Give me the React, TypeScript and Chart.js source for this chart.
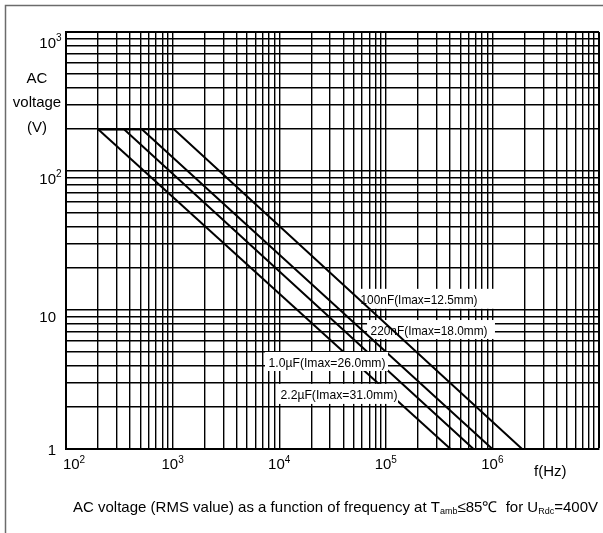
import { useEffect, useRef } from "react";
import { Chart, registerables } from "chart.js";

Chart.register(...registerables);

// ---- data ----
const FREQ_2U2 = [200, 405000];
const VOLT_2U2 = [200, 1];
const FREQ_1U0 = [200, 350, 665000];
const VOLT_1U0 = [200, 200, 1];
const FREQ_220N = [200, 515, 1000000];
const VOLT_220N = [200, 200, 1];
const FREQ_100N = [200, 1030, 1900000];
const VOLT_100N = [200, 200, 1];

const SERIES_NAMES = [
  "2.2µF(Imax=31.0mm)",
  "1.0µF(Imax=26.0mm)",
  "220nF(Imax=18.0mm)",
  "100nF(Imax=12.5mm)",
];

// tick labels
const X_TICK_EXPONENTS = ["2", "3", "4", "5", "6"];
const Y_TICK_VALUES = [1, 10, 100, 1000];
const Y_TICK_BASES = ["1", "10", "10", "10"];
const Y_TICK_EXPONENTS = ["", "", "2", "3"];

const X_MIN = 100;
const X_MAX = 1e7;
const Y_MIN = 1;
const Y_MAX = 1000;

// label boxes anchored in data space: [f left, f right, V top, V bottom]
const LABEL_BOXES = [
  { name: 3, f0: 53700, f1: 1700000, v0: 14.2, v1: 10.2, above: false },
  { name: 2, f0: 66700, f1: 1057000, v0: 8.47, v1: 6.19, above: false },
  { name: 1, f0: 7360, f1: 104900, v0: 4.99, v1: 3.64, above: true },
  { name: 0, f0: 9530, f1: 130100, v0: 2.94, v1: 2.11, above: true },
];

const FONT = "'Liberation Sans', Arial, Helvetica, sans-serif";

function decadeGrid(minExp: number, maxExp: number): number[] {
  const out: number[] = [];
  for (let e = minExp; e < maxExp; e++) {
    for (let m = 1; m <= 9; m++) out.push(m * Math.pow(10, e));
  }
  out.push(Math.pow(10, maxExp));
  return out;
}

function pts(f: number[], v: number[]) {
  return f.map((x, i) => ({ x, y: v[i] }));
}

const decor = {
  id: "decor",
  beforeDraw(chart: any) {
    const ctx = chart.ctx;
    ctx.save();
    ctx.fillStyle = "#fff";
    ctx.fillRect(0, 0, chart.width, chart.height);
    ctx.strokeStyle = "#6b6b6b";
    ctx.lineWidth = 1.5;
    ctx.beginPath();
    ctx.moveTo(5.5, chart.height);
    ctx.lineTo(5.5, 5.5);
    ctx.lineTo(chart.width, 5.5);
    ctx.stroke();
    ctx.restore();
  },
  drawBoxes(chart: any, above: boolean) {
    const ctx = chart.ctx;
    const xs = chart.scales.x;
    const ys = chart.scales.y;
    ctx.save();
    for (const b of LABEL_BOXES) {
      if (b.above !== above) continue;
      const x0 = xs.getPixelForValue(b.f0);
      const x1 = xs.getPixelForValue(b.f1);
      const y0 = ys.getPixelForValue(b.v0);
      const y1 = ys.getPixelForValue(b.v1);
      ctx.fillStyle = "#fff";
      ctx.fillRect(x0, y0, x1 - x0, y1 - y0);
      const text = SERIES_NAMES[b.name];
      ctx.font = `13px ${FONT}`;
      const w = ctx.measureText(text).width;
      const s = 117 / w;
      const cy = (y0 + y1) / 2 + 0.5;
      ctx.save();
      ctx.translate(x0 + 3.5, cy + 4.6);
      ctx.scale(s, 1);
      ctx.fillStyle = "#000";
      ctx.textBaseline = "alphabetic";
      ctx.textAlign = "left";
      ctx.fillText(text, 0, 0);
      ctx.restore();
    }
    ctx.restore();
  },
  beforeDatasetsDraw(chart: any) {
    (decor as any).drawBoxes(chart, false);
  },
  afterDatasetsDraw(chart: any) {
    (decor as any).drawBoxes(chart, true);
  },
  afterDraw(chart: any) {
    const ctx = chart.ctx;
    const xs = chart.scales.x;
    const ys = chart.scales.y;
    const area = chart.chartArea;
    ctx.save();
    ctx.fillStyle = "#000";
    ctx.textBaseline = "alphabetic";

    // x tick labels
    X_TICK_EXPONENTS.forEach((e, i) => {
      const px = xs.getPixelForValue(Math.pow(10, Number(e)));
      ctx.font = `15px ${FONT}`;
      const wb = ctx.measureText("10").width;
      ctx.font = `10px ${FONT}`;
      const we = ctx.measureText(e).width;
      const left = px - (wb + we) / 2 + (i === 0 ? 8 : 0);
      const base = area.bottom + 19.5;
      ctx.textAlign = "left";
      ctx.font = `15px ${FONT}`;
      ctx.fillText("10", left, base);
      ctx.font = `10px ${FONT}`;
      ctx.fillText(e, left + wb, base - 6);
    });

    // y tick labels
    const yOff = [6, 11.5, 12.5, 15.5];
    Y_TICK_VALUES.forEach((v, i) => {
      const py = ys.getPixelForValue(v);
      const right = area.left - 10;
      const base = py + yOff[i];
      ctx.textAlign = "right";
      ctx.font = `15px ${FONT}`;
      ctx.fillText(Y_TICK_BASES[i], right, base);
      if (Y_TICK_EXPONENTS[i]) {
        ctx.textAlign = "left";
        ctx.font = `10px ${FONT}`;
        ctx.fillText(Y_TICK_EXPONENTS[i], right, base - 7);
      }
    });

    // y axis title
    ctx.textAlign = "center";
    ctx.font = `15px ${FONT}`;
    ctx.fillText("AC", 37, 82.5);
    ctx.fillText("voltage", 37, 106.5);
    ctx.fillText("(V)", 37, 131.5);

    // x axis title
    ctx.textAlign = "left";
    ctx.fillText("f(Hz)", 534, 476);

    // caption
    const pieces = [
      { t: "AC voltage (RMS value) as a function of frequency at T", sub: false },
      { t: "amb", sub: true },
      { t: "≤85℃  for U", sub: false },
      { t: "Rdc", sub: true },
      { t: "=400V", sub: false },
    ];
    let total = 0;
    for (const p of pieces) {
      ctx.font = p.sub ? `9px ${FONT}` : `15px ${FONT}`;
      total += ctx.measureText(p.t).width;
    }
    const sc = 525 / total;
    ctx.save();
    ctx.translate(73, 511.5);
    ctx.scale(sc, 1);
    let cx = 0;
    for (const p of pieces) {
      ctx.font = p.sub ? `9px ${FONT}` : `15px ${FONT}`;
      ctx.fillText(p.t, cx, p.sub ? 2 : 0);
      cx += ctx.measureText(p.t).width;
    }
    ctx.restore();
    ctx.restore();
  },
};

export default function App() {
  const ref = useRef<HTMLCanvasElement | null>(null);
  useEffect(() => {
    if (!ref.current) return;
    const X_GRID = decadeGrid(2, 7);
    const Y_GRID = decadeGrid(0, 3);
    const lineDs = (f: number[], v: number[], label: string) => ({
      label,
      data: pts(f, v),
      showLine: true,
      borderColor: "#000",
      borderWidth: 2,
      pointRadius: 0,
      tension: 0,
      fill: false,
    });
    const chart = new Chart(ref.current, {
      type: "scatter",
      data: {
        datasets: [
          lineDs(FREQ_2U2, VOLT_2U2, SERIES_NAMES[0]),
          lineDs(FREQ_1U0, VOLT_1U0, SERIES_NAMES[1]),
          lineDs(FREQ_220N, VOLT_220N, SERIES_NAMES[2]),
          lineDs(FREQ_100N, VOLT_100N, SERIES_NAMES[3]),
        ],
      },
      options: {
        animation: false,
        responsive: false,
        events: [],
        layout: { padding: { left: 66, right: 4, top: 32, bottom: 84 } },
        plugins: { legend: { display: false }, tooltip: { enabled: false } },
        scales: {
          x: {
            type: "logarithmic",
            min: X_MIN,
            max: X_MAX,
            afterBuildTicks: (s: any) => {
              s.ticks = X_GRID.map((v) => ({ value: v }));
            },
            afterFit: (s: any) => {
              s.height = 0;
            },
            ticks: { display: false },
            grid: {
              color: "#000",
              lineWidth: (c: any) => (c.tick && c.tick.value === X_MAX ? 2 : 1.4),
              drawTicks: false,
            },
            border: { display: true, color: "#000", width: 2 },
          },
          y: {
            type: "logarithmic",
            min: Y_MIN,
            max: Y_MAX,
            afterBuildTicks: (s: any) => {
              s.ticks = Y_GRID.map((v) => ({ value: v }));
            },
            afterFit: (s: any) => {
              s.width = 0;
            },
            ticks: { display: false },
            grid: {
              color: "#000",
              lineWidth: (c: any) => (c.tick && c.tick.value === Y_MAX ? 2 : 1.4),
              drawTicks: false,
            },
            border: { display: true, color: "#000", width: 2 },
          },
        },
      } as any,
      plugins: [decor as any],
    });
    return () => chart.destroy();
  }, []);
  return (
    <div style={{ position: "absolute", left: 0, top: 0, width: 603, height: 533, background: "#fff" }}>
      <canvas ref={ref} width={603} height={533} style={{ display: "block" }} />
    </div>
  );
}
